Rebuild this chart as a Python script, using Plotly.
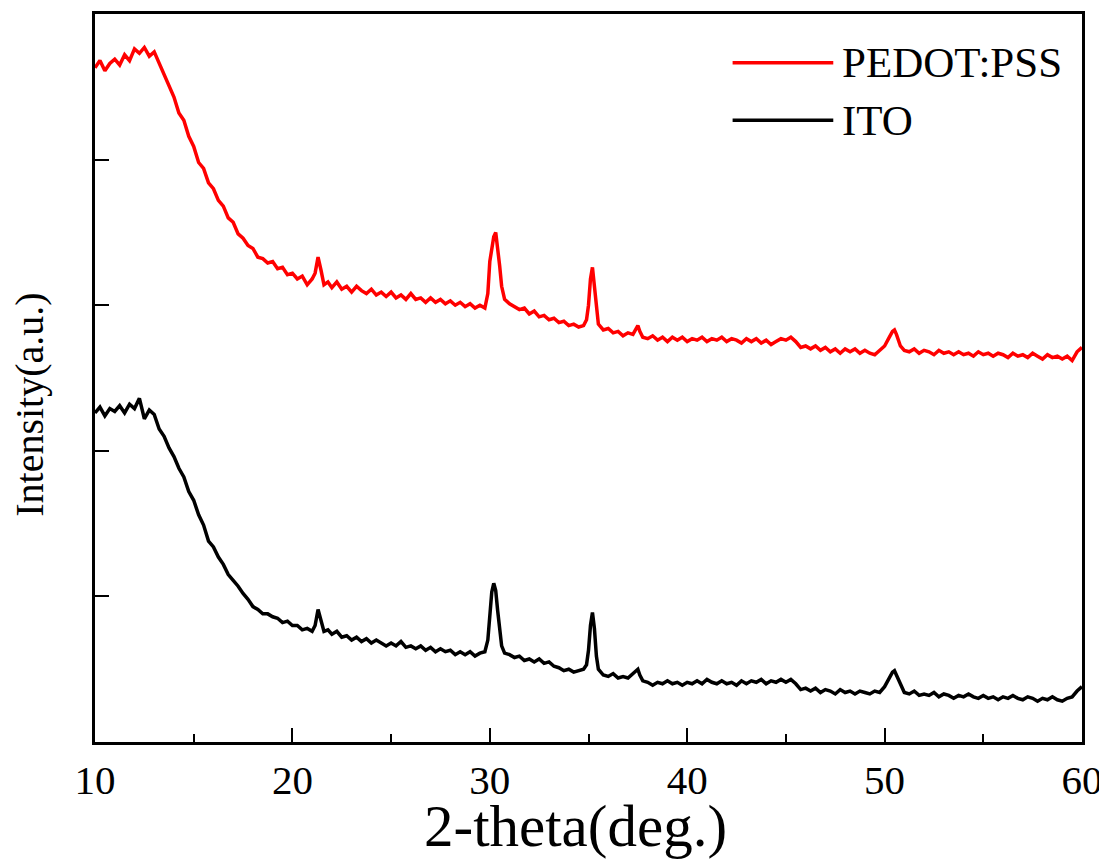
import plotly.graph_objects as go

two_theta = [
    10.0, 10.25, 10.5, 10.75, 11.0, 11.25, 11.5, 11.75, 12.0, 12.25, 12.5, 12.75,
    13.0, 13.25, 13.5, 13.75, 14.0, 14.25, 14.5, 14.75, 15.0, 15.25, 15.5, 15.75,
    16.0, 16.25, 16.5, 16.75, 17.0, 17.25, 17.5, 17.75, 18.0, 18.25, 18.5, 18.75,
    19.0, 19.25, 19.5, 19.75, 20.0, 20.25, 20.5, 20.75, 21.0,
    21.15, 21.3, 21.45, 21.6, 21.8,
    22.0, 22.25, 22.5, 22.75, 23.0, 23.25, 23.5, 23.75, 24.0, 24.25, 24.5, 24.75,
    25.0, 25.25, 25.5, 25.75, 26.0, 26.25, 26.5, 26.75, 27.0, 27.25, 27.5, 27.75,
    28.0, 28.25, 28.5, 28.75, 29.0, 29.25, 29.5, 29.75,
    29.9, 30.0, 30.1, 30.2, 30.3, 30.4, 30.5, 30.6, 30.75,
    31.0, 31.25, 31.5, 31.75, 32.0, 32.25, 32.5, 32.75, 33.0, 33.25, 33.5, 33.75,
    34.0, 34.25, 34.5, 34.75,
    34.9, 35.0, 35.1, 35.2, 35.3, 35.4, 35.5,
    35.75, 36.0, 36.25, 36.5, 36.75, 37.0, 37.25,
    37.4, 37.5, 37.6,
    37.75, 38.0, 38.25, 38.5, 38.75, 39.0, 39.25, 39.5, 39.75, 40.0, 40.25, 40.5,
    40.75, 41.0, 41.25, 41.5, 41.75, 42.0, 42.25, 42.5, 42.75, 43.0, 43.25, 43.5,
    43.75, 44.0, 44.25, 44.5, 44.75, 45.0, 45.25, 45.5, 45.75, 46.0, 46.25, 46.5,
    46.75, 47.0, 47.25, 47.5, 47.75, 48.0, 48.25, 48.5, 48.75, 49.0, 49.25, 49.5,
    49.75, 50.0,
    50.2, 50.4, 50.5, 50.6, 50.8,
    51.0, 51.25, 51.5, 51.75, 52.0, 52.25, 52.5, 52.75, 53.0, 53.25, 53.5, 53.75,
    54.0, 54.25, 54.5, 54.75, 55.0, 55.25, 55.5, 55.75, 56.0, 56.25, 56.5, 56.75,
    57.0, 57.25, 57.5, 57.75, 58.0, 58.25, 58.5, 58.75, 59.0, 59.25, 59.5, 59.75,
    60.0,
]

pedot_pss = [
    463, 468, 461, 466, 469, 465, 472, 468, 476, 473, 477, 471,
    474, 466, 458, 451, 443, 432, 427, 416, 409, 398, 394, 384,
    380, 372, 368, 360, 357, 349, 346, 341, 339, 333, 332, 329,
    330, 325, 326, 321, 322, 318, 320, 314, 318,
    322, 333, 324, 314, 316,
    312, 316, 311, 313, 309, 313, 310, 308, 311, 307, 309, 306,
    309, 305, 307, 304, 308, 304, 305, 302, 305, 302, 304, 301,
    303, 300, 302, 299, 301, 298, 300, 298,
    308, 330, 339, 347, 350, 340, 327, 313, 304,
    301, 299, 297, 298, 294, 296, 292, 293, 290, 291, 288, 289,
    286, 287, 285, 286,
    290, 300, 318, 326, 312, 296, 287,
    283, 284, 281, 282, 279, 281, 280,
    284, 286, 282,
    278, 277, 279, 276, 278, 275, 278, 276, 278, 275, 277, 276,
    278, 275, 277, 276, 278, 275, 277, 276, 274, 277, 275, 277,
    274, 276, 273, 275, 277, 276, 278, 275, 271, 272, 270, 272,
    269, 271, 268, 270, 267, 270, 268, 270, 267, 269, 267, 266,
    269, 272,
    277, 282, 283, 280, 272,
    269, 268, 270, 267, 269, 268, 266, 269, 267, 268, 266, 268,
    266, 267, 265, 268, 266, 267, 265, 267, 266, 264, 267, 265,
    266, 264, 267, 265, 263, 266, 264, 265, 263, 265, 262, 268,
    271,
]

ito = [
    226, 230, 224, 229, 227, 231, 226, 232, 229, 236, 222, 228,
    225, 215, 210, 202, 196, 188, 182, 172, 166, 156, 149, 138,
    134, 127, 122, 115, 111, 107, 102, 98, 93, 91, 88, 88,
    86, 85, 82, 83, 80, 80, 77, 78, 76,
    80, 91, 84, 76, 77,
    74, 76, 72, 73, 70, 72, 69, 71, 68, 70, 68, 66,
    68, 66, 69, 65, 66, 64, 66, 63, 65, 62, 64, 62,
    63, 60, 62, 60, 62, 59, 61, 62,
    70, 88, 103, 109, 104, 90, 77, 66, 61,
    60, 58, 59, 56, 57, 55, 57, 54, 55, 52, 51, 49,
    50, 48, 49, 50,
    53, 63, 80, 89, 78, 59, 50,
    46, 45, 47, 44, 45, 44, 47,
    49, 50, 46,
    42, 41, 39, 41, 40, 42, 40, 41, 39, 41, 40, 42,
    40, 43, 41, 40, 42, 40, 41, 39, 42, 40, 42, 41,
    43, 40, 42, 41, 43, 41, 43, 40, 36, 37, 35, 37,
    34, 36, 35, 33, 36, 34, 35, 33, 35, 34, 33, 35,
    34, 38,
    43, 48, 49, 46, 39,
    34, 33, 35, 32, 33, 32, 34, 31, 33, 32, 30, 32,
    31, 33, 31, 30, 32, 30, 31, 29, 31, 30, 32, 30,
    29, 31, 30, 28, 30, 29, 31, 29, 28, 30, 31, 35,
    38,
]

series_names = ["PEDOT:PSS", "ITO"]
series_colors = ["#ff0000", "#000000"]
x_ticks = [10, 20, 30, 40, 50, 60]
y_ticks = [100, 200, 300, 400]
x_title = "2-theta(deg.)"
y_title = "Intensity(a.u.)"

FONT = "Liberation Serif, Times New Roman, serif"

fig = go.Figure()
for name, vals, col in zip(series_names, [pedot_pss, ito], series_colors):
    fig.add_trace(go.Scatter(x=two_theta, y=vals, mode="lines", name=name,
                             line=dict(color=col, width=3.5), showlegend=False))

# legend drawn as paper-referenced sample lines and labels
leg_y = [0.933, 0.854]
for name, col, yy in zip(series_names, series_colors, leg_y):
    fig.add_shape(type="line", xref="paper", yref="paper", x0=0.646, x1=0.748,
                  y0=yy, y1=yy, line=dict(color=col, width=3.5))
    fig.add_annotation(xref="paper", yref="paper", x=0.755, y=yy, text=name,
                       showarrow=False, xanchor="left", yanchor="middle",
                       font=dict(family=FONT, size=43, color="black"))

# axis titles
fig.add_annotation(xref="paper", yref="paper", x=0.487, y=-0.116, text=x_title,
                   showarrow=False, xanchor="center", yanchor="middle",
                   font=dict(family=FONT, size=59, color="black"))
fig.add_annotation(xref="paper", yref="paper", x=-0.066, y=0.463, text=y_title,
                   showarrow=False, textangle=-90, xanchor="center", yanchor="middle",
                   font=dict(family=FONT, size=40, color="black"))

# the page body adds an 8 px offset, so the figure is sized to fit the window
fig.update_layout(
    width=1099, height=852,
    margin=dict(l=87, r=25, t=6, b=118),
    paper_bgcolor="white", plot_bgcolor="white",
    font=dict(family=FONT, color="black"),
)
fig.update_xaxes(
    range=[10, 60], tickvals=x_ticks, ticks="inside", ticklen=14, tickwidth=2,
    tickcolor="black", showline=True, linecolor="black", linewidth=2.5, mirror=True,
    showgrid=False, zeroline=False, automargin=False,
    minor=dict(ticks="inside", ticklen=8, tickwidth=2, tickcolor="black", dtick=5, showgrid=False),
    tickfont=dict(family=FONT, size=41), ticklabelstandoff=0,
)
fig.update_yaxes(
    range=[0, 500], tickvals=y_ticks, showticklabels=False, ticks="inside", ticklen=14,
    tickwidth=2, tickcolor="black", showline=True, linecolor="black", linewidth=2.5,
    mirror=True, showgrid=False, zeroline=False, automargin=False,
)

fig.write_html("out.html")
